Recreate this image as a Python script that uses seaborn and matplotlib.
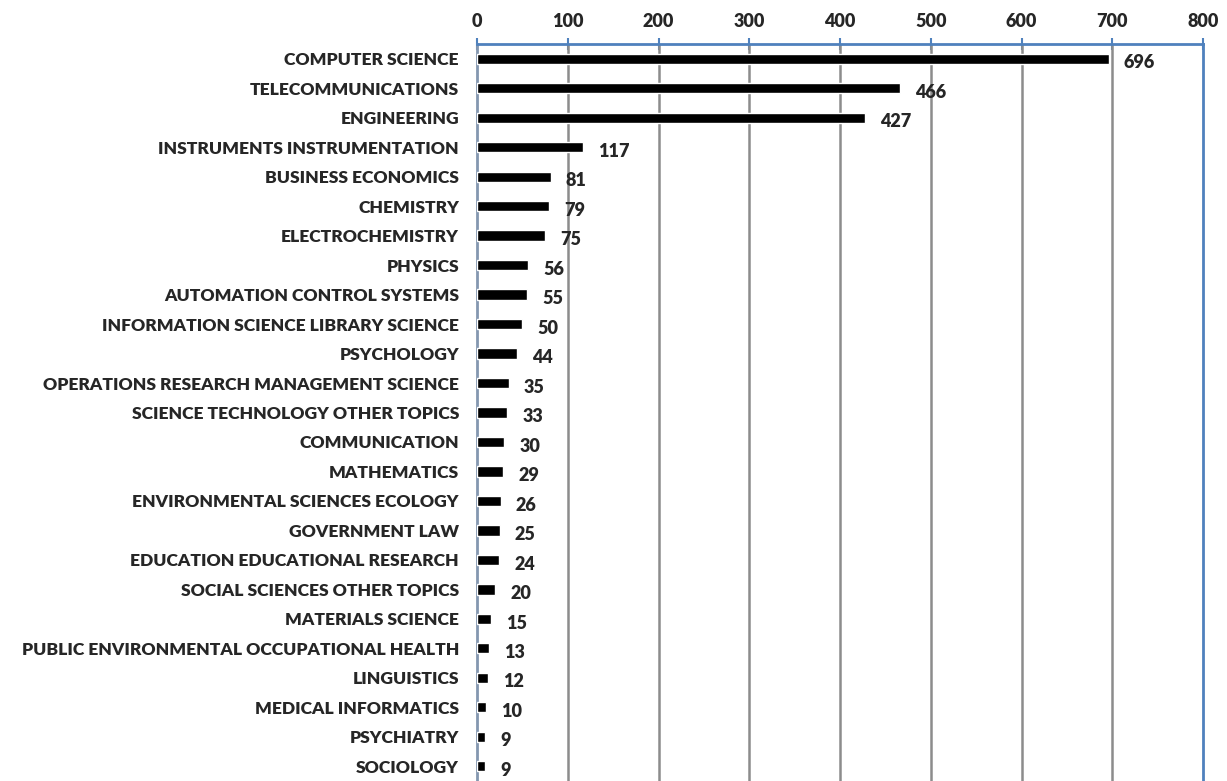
import matplotlib
matplotlib.use("Agg")
import matplotlib.pyplot as plt
import seaborn as sns
import pandas as pd

categories = [
    "COMPUTER SCIENCE", "TELECOMMUNICATIONS", "ENGINEERING",
    "INSTRUMENTS INSTRUMENTATION", "BUSINESS ECONOMICS", "CHEMISTRY",
    "ELECTROCHEMISTRY", "PHYSICS", "AUTOMATION CONTROL SYSTEMS",
    "INFORMATION SCIENCE LIBRARY SCIENCE", "PSYCHOLOGY",
    "OPERATIONS RESEARCH MANAGEMENT SCIENCE", "SCIENCE TECHNOLOGY OTHER TOPICS",
    "COMMUNICATION", "MATHEMATICS", "ENVIRONMENTAL SCIENCES ECOLOGY",
    "GOVERNMENT LAW", "EDUCATION EDUCATIONAL RESEARCH",
    "SOCIAL SCIENCES OTHER TOPICS", "MATERIALS SCIENCE",
    "PUBLIC ENVIRONMENTAL OCCUPATIONAL HEALTH", "LINGUISTICS",
    "MEDICAL INFORMATICS", "PSYCHIATRY", "SOCIOLOGY",
]
values = [696, 466, 427, 117, 81, 79, 75, 56, 55, 50, 44, 35, 33, 30, 29,
          26, 25, 24, 20, 15, 13, 12, 10, 9, 9]
x_ticks = [0, 100, 200, 300, 400, 500, 600, 700, 800]

sns.set_style("white")
plt.rcParams['font.family'] = ['Lato', 'DejaVu Sans']

FW = "heavy"
FS_CAT = 12.6
FS_NUM = 13

df = pd.DataFrame({"category": categories, "value": values})

fig = plt.figure(figsize=(12.27, 7.81), dpi=100)
ax = fig.add_axes([477/1227, 0.0, 726/1227, 1 - 44/781])

sns.barplot(data=df, x="value", y="category", orient="h", color="black",
            width=0.35, ax=ax, zorder=3, saturation=1)

ax.set_xlim(0, 800)
ax.set_ylim(len(categories) - 0.5, -0.5)
ax.set_xlabel("")
ax.set_ylabel("")

ax.xaxis.tick_top()
ax.set_xticks(x_ticks)
ax.set_xticklabels([str(t) for t in x_ticks], fontsize=FS_NUM, fontweight=FW)
ax.tick_params(axis="x", which="both", direction="inout", length=8, width=1.5,
               color="#4F81BD", pad=6)

for t in x_ticks[1:-1]:
    ax.axvline(t, color="#8C8C8C", lw=1.8, zorder=1)

ax.set_yticks(range(len(categories)))
ax.set_yticklabels(categories, fontsize=FS_CAT, fontweight=FW)
ax.tick_params(axis="y", length=0, pad=13)
ax.set_yticks([i - 0.5 for i in range(len(categories) + 1)], minor=True)
ax.tick_params(axis="y", which="minor", direction="out", length=7, width=1.2,
               color="#8C8C8C")

for s in ["top", "right"]:
    ax.spines[s].set_color("#4F81BD")
    ax.spines[s].set_linewidth(2)
ax.spines["left"].set_color("#8497B0")
ax.spines["left"].set_linewidth(2)
ax.spines["bottom"].set_visible(False)

for i, v in enumerate(values):
    ax.annotate(str(v), xy=(v, i), xytext=(11, -3), textcoords="offset points",
                ha="left", va="center", fontsize=FS_NUM, fontweight=FW)

fig.savefig("out.png", dpi=100)
